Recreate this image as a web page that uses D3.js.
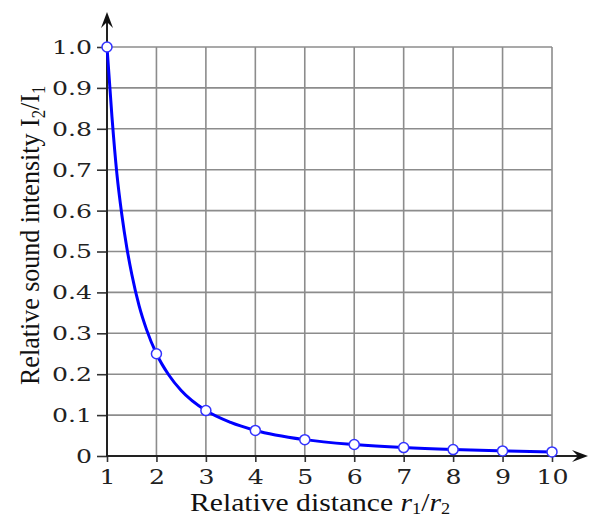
<!DOCTYPE html>
<html>
<head>
<meta charset="utf-8">
<script src="https://d3js.org/d3.v7.min.js"></script>
<style>
  body { margin: 0; background: #fff; }
  svg { display: block; }
</style>
</head>
<body>
<svg id="chart" width="589" height="517"></svg>
<script>
  // data
  const distances = [1, 2, 3, 4, 5, 6, 7, 8, 9, 10];
  const intensities = [1.0, 0.25, 0.111, 0.0625, 0.04, 0.028, 0.0205, 0.0157, 0.0124, 0.01];
  // extra readings along the smooth curve
  const curveX = [1, 1.1, 1.2, 1.3, 1.4, 1.5, 1.65, 1.8, 2, 2.25, 2.5, 3, 3.5, 4, 5, 6, 7, 8, 9, 10];
  const curveY = [1.0, 0.83, 0.69, 0.59, 0.51, 0.445, 0.367, 0.309, 0.25, 0.198, 0.16, 0.111, 0.082, 0.0625, 0.04, 0.028, 0.0205, 0.0157, 0.0124, 0.01];
  const xTicks = [1, 2, 3, 4, 5, 6, 7, 8, 9, 10];
  const yTicks = [0, 0.1, 0.2, 0.3, 0.4, 0.5, 0.6, 0.7, 0.8, 0.9, 1.0];

  const svg = d3.select('#chart');
  const x = d3.scaleLinear().domain([1, 10]).range([107, 552]);
  const y = d3.scaleLinear().domain([0, 1]).range([456, 47]);

  // grid
  const grid = svg.append('g').attr('stroke', '#8c8c8c').attr('stroke-width', 1.6);
  grid.selectAll('.gv').data(xTicks.slice(1)).enter().append('line')
    .attr('x1', d => x(d)).attr('x2', d => x(d))
    .attr('y1', y(0)).attr('y2', y(1));
  grid.selectAll('.gh').data(yTicks.slice(1)).enter().append('line')
    .attr('x1', x(1)).attr('x2', x(10))
    .attr('y1', d => y(d)).attr('y2', d => y(d));

  // axes
  const yAxis = d3.axisLeft(y).tickValues(yTicks).tickSize(10).tickPadding(5)
    .tickFormat(d => d === 0 ? '0' : d3.format('.1f')(d));
  const xAxis = d3.axisBottom(x).tickValues(xTicks).tickSize(6).tickPadding(7);

  const gy = svg.append('g').attr('transform', `translate(${x(1)},0)`).call(yAxis);
  const gx = svg.append('g').attr('transform', `translate(0,${y(0)})`).call(xAxis);
  [gx, gy].forEach(g => {
    g.select('.domain').remove();
    g.selectAll('.tick line').attr('stroke', '#333').attr('stroke-width', 1.6);
    g.selectAll('.tick text').attr('fill', '#222')
      .style('font-family', '"DejaVu Serif", serif');
  });
  // the picture's digits are stretched sideways
  gy.selectAll('.tick text').style('font-size', '18px').attr('dy', '0.36em')
    .attr('x', -15 / 1.4).attr('transform', 'scale(1.4,1)');
  gx.selectAll('.tick text').style('font-size', '21px')
    .attr('transform', 'scale(1.2,1)');

  // axis lines with arrows
  svg.append('line').attr('x1', x(1)).attr('x2', x(1)).attr('y1', y(0) + 1).attr('y2', 16)
    .attr('stroke', '#222').attr('stroke-width', 2);
  svg.append('line').attr('x1', x(1) - 1).attr('x2', 583).attr('y1', y(0)).attr('y2', y(0))
    .attr('stroke', '#222').attr('stroke-width', 2);
  svg.append('path')
    .attr('d', `M${x(1)},12 L${x(1) - 6},28 L${x(1)},22 L${x(1) + 6},28 Z`)
    .attr('fill', '#111');
  svg.append('path')
    .attr('d', `M588,${y(0)} L572,${y(0) - 6} L578,${y(0)} L572,${y(0) + 6} Z`)
    .attr('fill', '#111');

  // curve
  const line = d3.line().x(d => x(d[0])).y(d => y(d[1])).curve(d3.curveMonotoneX);
  svg.append('path').datum(d3.zip(curveX, curveY))
    .attr('d', line).attr('fill', 'none')
    .attr('stroke', '#0000ff').attr('stroke-width', 3);

  svg.selectAll('.pt').data(d3.zip(distances, intensities)).enter().append('circle')
    .attr('cx', d => x(d[0])).attr('cy', d => y(d[1])).attr('r', 5)
    .attr('fill', '#fff').attr('stroke', '#3333ff').attr('stroke-width', 1.5);

  // labels
  const xl = svg.append('text')
    .attr('transform', 'translate(190,511) scale(1.14,1)')
    .style('font-family', '"Liberation Serif", serif').style('font-size', '26px').attr('fill', '#111');
  xl.append('tspan').text('Relative distance ');
  xl.append('tspan').style('font-style', 'italic').text('r');
  xl.append('tspan').attr('dy', 3).style('font-size', '16px').text('1');
  xl.append('tspan').attr('dy', -3).text('/');
  xl.append('tspan').style('font-style', 'italic').text('r');
  xl.append('tspan').attr('dy', 3).style('font-size', '16px').text('2');

  const yl = svg.append('text')
    .attr('transform', 'translate(39,385) rotate(-90) scale(0.93,1)')
    .style('font-family', '"Liberation Serif", serif').style('font-size', '28px').attr('fill', '#111');
  yl.append('tspan').text('Relative sound intensity  I');
  yl.append('tspan').attr('dy', 6).style('font-size', '18px').text('2');
  yl.append('tspan').attr('dy', -6).text('/I');
  yl.append('tspan').attr('dy', 6).style('font-size', '18px').text('1');
</script>
</body>
</html>
